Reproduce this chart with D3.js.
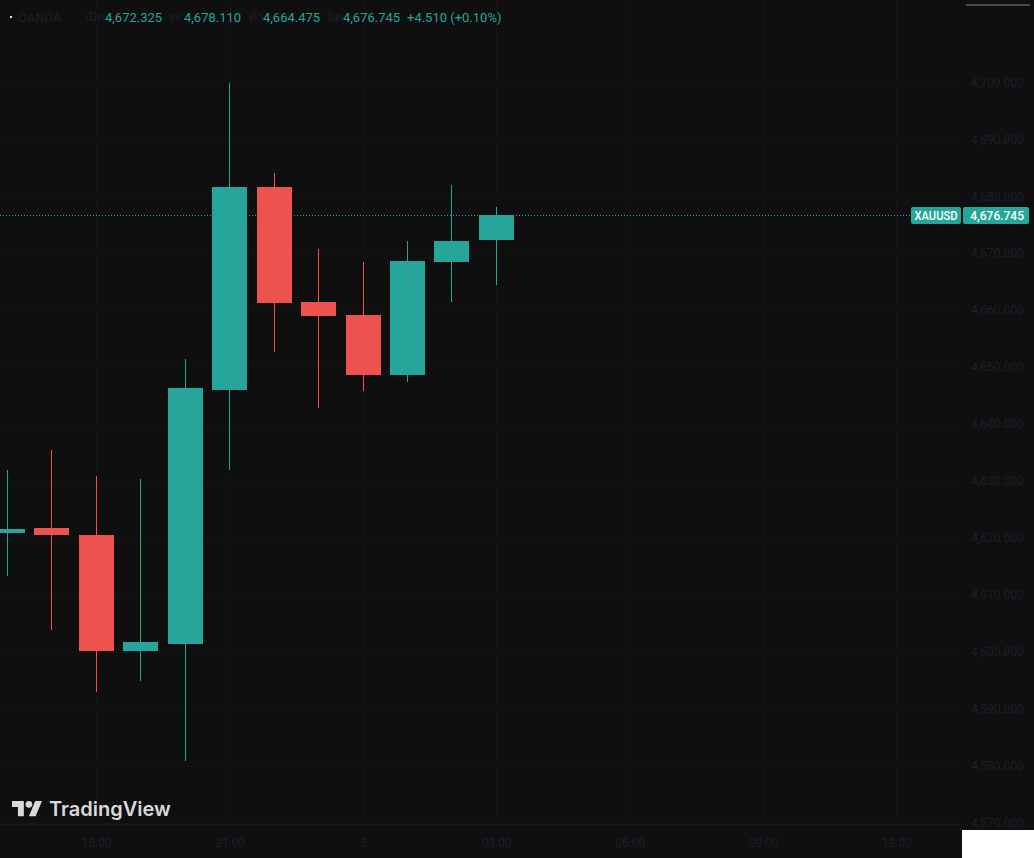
<!DOCTYPE html>
<html><head><meta charset="utf-8">
<script src="https://cdn.jsdelivr.net/npm/d3@7"></script>
<style>html,body{margin:0;padding:0;background:#0f0f0f;overflow:hidden}svg{display:block}</style>
</head><body><svg id="c" width="1034" height="858"></svg>
<script>
// ---- data ----
const times = ["2026-02-02T16:00","2026-02-02T17:00","2026-02-02T18:00","2026-02-02T19:00","2026-02-02T20:00","2026-02-02T21:00","2026-02-02T22:00","2026-02-02T23:00","2026-02-03T00:00","2026-02-03T01:00","2026-02-03T02:00","2026-02-03T03:00"];
const opens  = [4620.79,4621.79,4620.56,4600.09,4601.44,4646.00,4681.62,4661.44,4659.16,4648.63,4668.46,4672.325];
const highs  = [4631.96,4635.48,4630.91,4630.39,4651.46,4699.84,4684.06,4670.74,4668.46,4672.14,4681.97,4678.110];
const lows   = [4613.26,4603.77,4592.90,4594.83,4580.74,4631.96,4652.66,4642.84,4645.83,4647.41,4661.44,4664.475];
const closes = [4621.62,4620.44,4600.09,4601.79,4646.36,4681.62,4661.26,4658.98,4648.63,4668.63,4672.14,4676.745];
const priceTicks = [4570,4580,4590,4600,4610,4620,4630,4640,4650,4660,4670,4680,4690,4700];
const timeTicks = ["2026-02-02T18:00","2026-02-02T21:00","2026-02-03T00:00","2026-02-03T03:00","2026-02-03T06:00","2026-02-03T09:00","2026-02-03T12:00"];
const timeTickLabels = ["18:00","21:00","3","03:00","06:00","09:00","12:00"];
const symbol = "XAUUSD";
const broker = "OANDA";
const legendLabels = ["เปิด","สูง","ต่ำ","ปิด"];
const legendValues = ["4,672.325","4,678.110","4,664.475","4,676.745"];
const changeText = "+4.510 (+0.10%)";

// ---- layout ----
const W = 1034, H = 858, plotW = 962, plotH = 824;
const UP = "#26a69a", DOWN = "#ef5350", BG = "#0f0f0f", DIM = "#1b1f2d", GRID = "#141414";
const parse = d3.timeParse("%Y-%m-%dT%H:%M");
const candles = times.map((t,i)=>({t:parse(t),o:opens[i],h:highs[i],l:lows[i],c:closes[i]}));

const x = d3.scaleTime()
  .domain([parse("2026-02-02T15:50"), d3.timeParse("%Y-%m-%dT%H:%M:%S")("2026-02-03T13:28:30")])
  .range([0, plotW]);
const y = d3.scaleLinear().domain([4569.76, 4714.45]).range([plotH, 0]);

const svg = d3.select("#c");
svg.append("rect").attr("width",W).attr("height",H).attr("fill",BG);

const font = "Roboto, 'Liberation Sans', sans-serif";

// grid
const g = svg.append("g").attr("shape-rendering","crispEdges");
g.selectAll(".vg").data(timeTicks.map(parse)).join("line")
  .attr("x1",d=>Math.round(x(d))+0.5).attr("x2",d=>Math.round(x(d))+0.5)
  .attr("y1",0).attr("y2",plotH).attr("stroke",GRID);
g.selectAll(".hg").data(priceTicks).join("line")
  .attr("x1",0).attr("x2",plotW)
  .attr("y1",d=>Math.round(y(d))+0.5).attr("y2",d=>Math.round(y(d))+0.5).attr("stroke",GRID);
g.append("line").attr("x1",0).attr("x2",plotW).attr("y1",plotH+0.5).attr("y2",plotH+0.5).attr("stroke","#161616");

// last price dotted line
const last = candles[candles.length-1];
const ly = Math.round(y(last.c)) + 0.5;
svg.append("line").attr("x1",0).attr("x2",911).attr("y1",ly).attr("y2",ly)
  .attr("stroke",UP).attr("stroke-width",1).attr("stroke-dasharray","1,2");

// candles
const step = x(parse("2026-02-02T19:00")) - x(parse("2026-02-02T18:00"));
const bw = Math.round(step*0.787);
const cg = svg.append("g").attr("shape-rendering","crispEdges");
const cs = cg.selectAll("g").data(candles).join("g");
cs.append("rect")
  .attr("x",d=>Math.floor(x(d.t))).attr("width",1)
  .attr("y",d=>y(d.h)).attr("height",d=>y(d.l)-y(d.h))
  .attr("fill",d=>d.c>=d.o?UP:DOWN);
cs.append("rect")
  .attr("x",d=>Math.round(x(d.t)-bw/2)).attr("width",bw)
  .attr("y",d=>y(Math.max(d.o,d.c))).attr("height",d=>Math.max(1,Math.abs(y(d.o)-y(d.c))))
  .attr("fill",d=>d.c>=d.o?UP:DOWN);

// price axis
const pa = svg.append("g").attr("transform","translate(1024,0)")
  .call(d3.axisRight(y).tickValues(priceTicks).tickFormat(d3.format(",.3f")).tickSize(0).tickPadding(0));
pa.select(".domain").remove();
pa.selectAll("text").attr("text-anchor","end").attr("fill",DIM)
  .style("font-family",font).style("font-size","12px");

// time axis
const ta = svg.append("g").attr("transform","translate(0,843)")
  .call(d3.axisBottom(x).tickValues(timeTicks.map(parse)).tickFormat((d,i)=>timeTickLabels[i]).tickSize(0).tickPadding(0));
ta.select(".domain").remove();
ta.selectAll("text").attr("y",0).attr("dy","0.35em").attr("fill",DIM)
  .style("font-family",font).style("font-size","12px");

// last price labels
const by = Math.round(y(last.c)) - 8;
svg.append("rect").attr("x",911).attr("y",by).attr("width",50).attr("height",17).attr("rx",2).attr("fill",UP);
svg.append("rect").attr("x",963).attr("y",by).attr("width",66).attr("height",17).attr("rx",2).attr("fill",UP);
svg.append("text").attr("x",936).attr("y",by+8.5).attr("dy","0.35em").attr("text-anchor","middle")
  .attr("fill","#ffffff").style("font-family",font).style("font-size","12px").style("font-weight","500")
  .attr("textLength",43).attr("lengthAdjust","spacingAndGlyphs").text(symbol);
svg.append("text").attr("x",1024).attr("y",by+8.5).attr("dy","0.35em").attr("text-anchor","end")
  .attr("fill","#ffffff").style("font-family",font).style("font-size","12px").style("font-weight","500")
  .text(d3.format(",.3f")(last.c));

// header legend
svg.append("rect").attr("x",10).attr("y",16).attr("width",2).attr("height",2).attr("fill","#e0e0e0");
svg.append("text").attr("x",18).attr("y",17).attr("dy","0.35em").attr("fill",DIM)
  .style("font-family",font).style("font-size","13px").text(broker);
const labX = [85,168,249,327], valX = [105,184,263,343];
legendLabels.forEach((lab,i)=>{
  svg.append("text").attr("x",labX[i]).attr("y",17).attr("dy","0.35em").attr("fill",DIM)
    .style("font-family","'Noto Sans', 'DejaVu Sans', sans-serif").style("font-size","12px").text(lab);
  svg.append("text").attr("x",valX[i]).attr("y",17).attr("dy","0.35em").attr("fill",UP)
    .style("font-family",font).style("font-size","13px").text(legendValues[i]);
});
svg.append("text").attr("x",407).attr("y",17).attr("dy","0.35em").attr("fill",UP)
  .style("font-family",font).style("font-size","13px").text(changeText);

// TradingView logo
const logo = svg.append("g").attr("fill","#d9d9d9");
const ic = logo.append("g").attr("transform","translate(12,797.6) scale(0.845)");
ic.append("path").attr("d","M14 22H7V11H0V4h14v18zM28 22h-8l7.5-18h8L28 22z");
ic.append("circle").attr("cx",20).attr("cy",8).attr("r",4);
logo.append("text").attr("x",49).attr("y",816).style("font-family","Inter, Roboto, sans-serif")
  .style("font-size","20px").style("font-weight","600").text("TradingView");

// corner artifacts
svg.append("rect").attr("x",962).attr("y",830).attr("width",72).attr("height",28).attr("fill","#ffffff");
svg.append("rect").attr("x",966).attr("y",4).attr("width",64).attr("height",2).attr("fill","#4a4a4a");
</script></body></html>
